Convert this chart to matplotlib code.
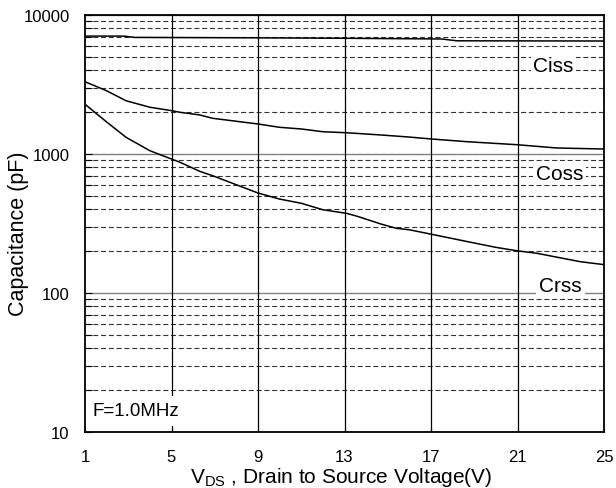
import matplotlib
matplotlib.use("Agg")
import matplotlib.pyplot as plt
from matplotlib.ticker import LogLocator, NullFormatter

plt.rcParams['font.family'] = ['Liberation Sans', 'DejaVu Sans']
plt.rcParams['mathtext.fontset'] = 'custom'
plt.rcParams['mathtext.rm'] = 'Liberation Sans'

# values
v_ciss = [1, 2.8, 3.3, 9, 13, 17.5, 18.2, 25]
ciss = [7050, 7050, 6900, 6850, 6800, 6720, 6520, 6500]

v_coss = [1, 2, 2.9, 4, 5, 5.4, 6.3, 6.9, 9, 10, 11, 12, 13.1, 14.7, 16, 17,
          18.7, 21, 22.8, 25]
coss = [3310, 2850, 2415, 2170, 2050, 1995, 1910, 1807, 1644, 1556, 1514, 1446,
        1422, 1370, 1324, 1283, 1225, 1166, 1105, 1086]

v_crss = [1, 2, 2.9, 4, 5, 5.4, 6.3, 6.9, 9, 10, 11, 12, 13.1, 13.6, 14.7, 15.4,
          16, 17, 18.7, 20, 21, 21.9, 23.9, 25]
crss = [2280, 1700, 1318, 1056, 920, 871, 751, 698, 524, 474, 442, 397, 374, 356,
        313, 292, 285, 265, 234, 213, 201, 193, 168, 160]

xticks = [1, 5, 9, 13, 17, 21, 25]
yticks = [10, 100, 1000, 10000]
ytick_labels = ['10', '100', '1000', '10000']

fig = plt.figure(figsize=(6.16, 4.89), dpi=100)
ax = fig.add_axes([85 / 616, 1 - 433 / 489, 519 / 616, 417 / 489])

ax.set_yscale('log')
ax.set_xlim(1, 25)
ax.set_ylim(10, 10000)

ax.plot(v_ciss, ciss, color='black', lw=1.1, zorder=3)
ax.plot(v_coss, coss, color='black', lw=1.1, zorder=3)
ax.plot(v_crss, crss, color='black', lw=1.1, zorder=3)

ax.set_xticks(xticks)
ax.set_xticklabels([str(t) for t in xticks])
ax.set_yticks(yticks)
ax.set_yticklabels(ytick_labels)
ax.yaxis.set_minor_locator(LogLocator(base=10, subs=range(2, 10)))
ax.yaxis.set_minor_formatter(NullFormatter())

ax.tick_params(axis='x', which='both', direction='in', length=3, width=0.8,
               labelsize=12, pad=12.5)
ax.tick_params(axis='y', which='major', direction='in', length=5, width=0.8,
               labelsize=12, pad=11)
ax.tick_params(axis='y', which='minor', direction='in', length=5, width=0.8)

# grid: solid verticals, grey solid decades, dashed minor lines
for x in xticks[1:-1]:
    ax.axvline(x, color='black', lw=0.9, zorder=1)
ax.yaxis.grid(True, which='major', color='#808080', lw=1.0, zorder=1)
ax.yaxis.grid(True, which='minor', color='#333333', lw=0.8,
              linestyle=(0, (4.5, 2.5)), zorder=1)
ax.set_axisbelow(True)

for s in ax.spines.values():
    s.set_linewidth(1.3)
    s.set_color('black')


# pixel -> data helpers for the labels
def ypix(p):
    return 10 ** (4 - (p - 16) / 139)


def xpix(p):
    return 1 + (p - 85) / (519 / 24)


box = dict(facecolor='white', edgecolor='none', pad=2)
lab_kw = dict(fontsize=15, ha='center', va='center', bbox=box, zorder=4)
ax.text(xpix(553.5), ypix(66), 'Ciss', **lab_kw)
ax.text(xpix(559.5), ypix(174), 'Coss', **lab_kw)
ax.text(xpix(560.5), ypix(287), 'Crss', **lab_kw)
ax.text(xpix(93), ypix(412), 'F=1.0MHz', fontsize=13.5, ha='left', va='center',
        bbox=dict(facecolor='white', edgecolor='none', pad=5), zorder=4)

fig.text(341 / 616, 1 - 483.5 / 489,
         r'$\mathregular{V_{DS}}$ , Drain to Source Voltage(V)',
         fontsize=15, ha='center', va='baseline')
fig.text(19 / 616, 1 - 234 / 489, 'Capacitance (pF)', fontsize=15.5,
         rotation=90, ha='center', va='center')

fig.savefig('out.png', dpi=100)
